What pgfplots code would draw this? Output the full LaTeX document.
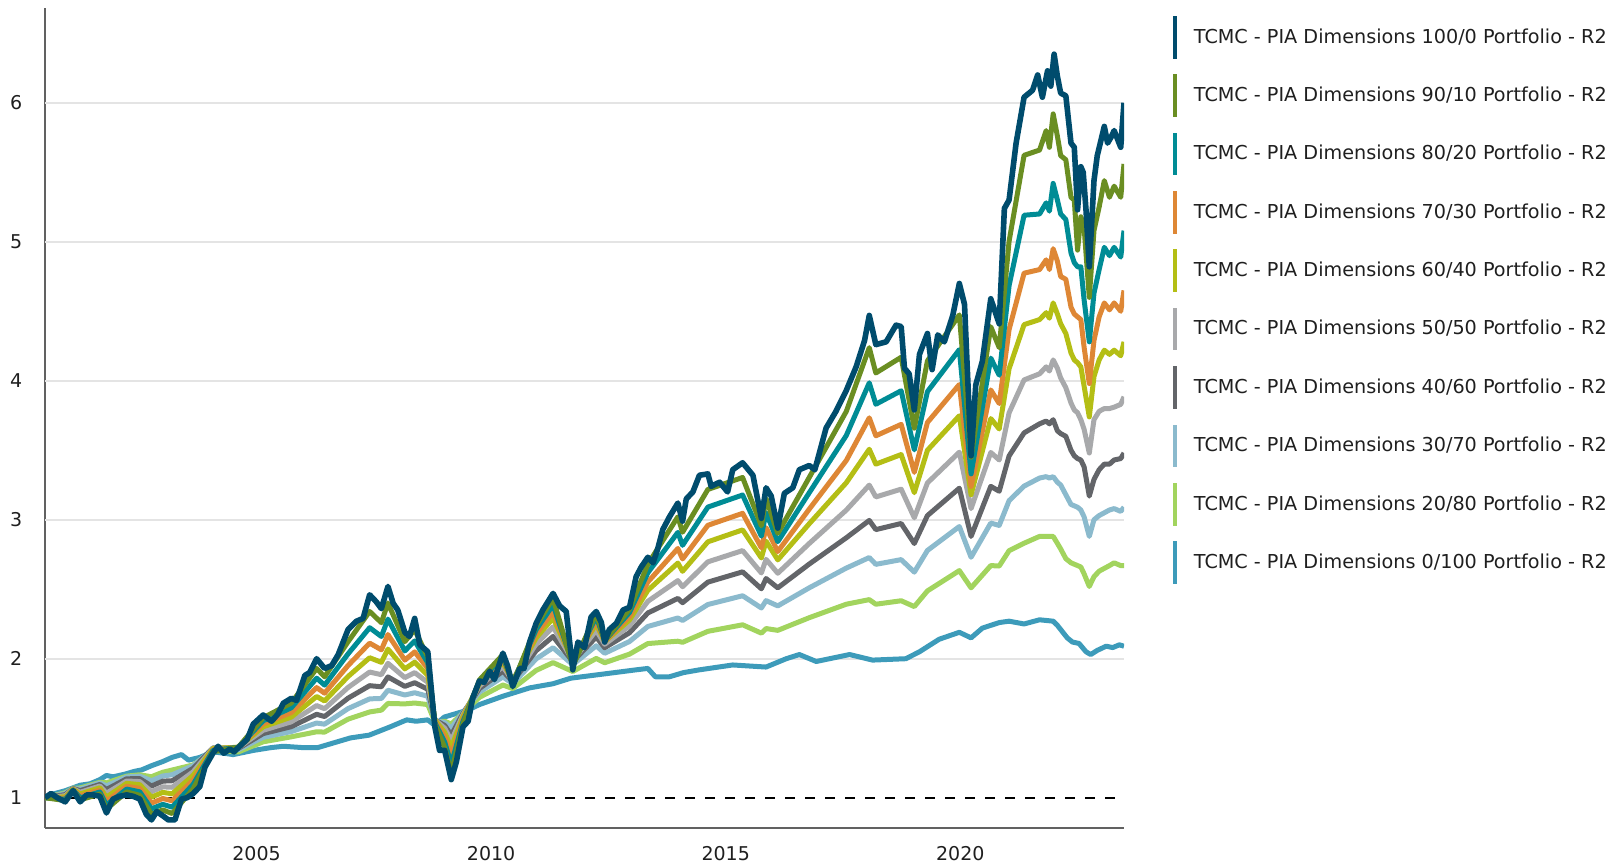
\documentclass[border=0pt]{standalone}
\usepackage{fontspec}
\setmainfont{DejaVu Sans}
\usepackage{pgfplots}
\usepackage{pgfplotstable}
\pgfplotsset{compat=1.18}

\definecolor{c100}{HTML}{004C6D}
\definecolor{c90}{HTML}{6A8E22}
\definecolor{c80}{HTML}{008C95}
\definecolor{c70}{HTML}{DE8735}
\definecolor{c60}{HTML}{B4BE15}
\definecolor{c50}{HTML}{A8A9AB}
\definecolor{c40}{HTML}{636569}
\definecolor{c30}{HTML}{8BBACD}
\definecolor{c20}{HTML}{A2D45E}
\definecolor{c0}{HTML}{3D9BBA}
\definecolor{gridc}{HTML}{E4E4E4}

% 100/0 portfolio
\pgfplotstableread{
x y
2000.49 1.00
2000.62 1.03
2000.75 1.00
2000.92 0.97
2001.09 1.05
2001.24 0.97
2001.38 1.02
2001.52 1.02
2001.66 1.01
2001.80 0.89
2001.94 0.99
2002.08 1.01
2002.23 1.02
2002.37 1.01
2002.51 0.99
2002.65 0.88
2002.76 0.84
2002.87 0.90
2003.00 0.87
2003.12 0.84
2003.26 0.84
2003.40 0.99
2003.52 1.00
2003.65 1.03
2003.79 1.08
2003.90 1.22
2004.07 1.32
2004.18 1.37
2004.30 1.32
2004.43 1.35
2004.52 1.33
2004.61 1.36
2004.80 1.42
2004.93 1.53
2005.14 1.595
2005.32 1.55
2005.45 1.60
2005.57 1.68
2005.74 1.715
2005.85 1.70
2006.03 1.88
2006.13 1.90
2006.28 2.00
2006.45 1.93
2006.60 1.95
2006.74 2.03
2006.95 2.21
2007.13 2.27
2007.27 2.29
2007.41 2.46
2007.55 2.41
2007.66 2.36
2007.80 2.52
2007.91 2.40
2008.01 2.35
2008.16 2.19
2008.26 2.16
2008.37 2.29
2008.48 2.10
2008.65 2.05
2008.80 1.51
2008.90 1.34
2009.01 1.34
2009.15 1.13
2009.26 1.26
2009.40 1.51
2009.51 1.55
2009.61 1.72
2009.75 1.84
2009.85 1.83
2009.97 1.91
2010.07 1.85
2010.25 2.04
2010.35 1.95
2010.46 1.80
2010.61 1.93
2010.70 1.93
2010.82 2.12
2010.96 2.255
2011.10 2.35
2011.32 2.47
2011.46 2.38
2011.60 2.34
2011.74 1.92
2011.85 2.12
2011.99 2.08
2012.13 2.30
2012.24 2.34
2012.35 2.26
2012.42 2.12
2012.52 2.21
2012.67 2.255
2012.81 2.35
2012.95 2.37
2013.09 2.59
2013.20 2.66
2013.34 2.73
2013.45 2.69
2013.55 2.79
2013.66 2.93
2013.80 3.02
2013.98 3.12
2014.08 2.99
2014.16 3.15
2014.30 3.20
2014.44 3.32
2014.62 3.33
2014.69 3.24
2014.87 3.27
2015.04 3.20
2015.15 3.36
2015.36 3.41
2015.58 3.32
2015.76 3.01
2015.86 3.23
2015.97 3.17
2016.11 2.94
2016.25 3.19
2016.43 3.23
2016.57 3.36
2016.78 3.39
2016.90 3.36
2017.14 3.66
2017.35 3.78
2017.57 3.93
2017.78 4.10
2017.96 4.29
2018.06 4.47
2018.20 4.26
2018.42 4.28
2018.63 4.40
2018.74 4.39
2018.81 4.09
2018.91 4.05
2019.02 3.79
2019.13 4.19
2019.30 4.34
2019.40 4.08
2019.52 4.33
2019.66 4.28
2019.84 4.47
2019.98 4.70
2020.09 4.55
2020.23 3.46
2020.33 3.97
2020.47 4.14
2020.65 4.59
2020.83 4.41
2020.94 5.24
2021.04 5.30
2021.19 5.71
2021.36 6.04
2021.54 6.09
2021.65 6.20
2021.75 6.04
2021.86 6.23
2021.93 6.12
2022.00 6.35
2022.07 6.19
2022.14 6.07
2022.25 6.05
2022.36 5.71
2022.43 5.68
2022.50 5.23
2022.57 5.54
2022.62 5.50
2022.68 5.23
2022.75 4.82
2022.85 5.44
2022.92 5.62
2023.07 5.83
2023.14 5.71
2023.21 5.75
2023.28 5.80
2023.42 5.68
2023.49 6.00
}\eqty

% 0/100 portfolio
\pgfplotstableread{
x y
2000.49 1.00
2000.70 1.03
2000.92 1.05
2001.24 1.09
2001.45 1.10
2001.66 1.13
2001.80 1.16
2001.94 1.15
2002.20 1.17
2002.40 1.19
2002.55 1.20
2002.76 1.23
2003.00 1.26
2003.20 1.29
2003.40 1.31
2003.55 1.27
2003.79 1.29
2004.07 1.33
2004.30 1.32
2004.50 1.31
2004.93 1.34
2005.30 1.36
2005.57 1.37
2006.00 1.36
2006.30 1.36
2006.70 1.40
2007.00 1.43
2007.40 1.45
2007.85 1.51
2008.20 1.56
2008.40 1.55
2008.65 1.56
2008.80 1.52
2009.00 1.58
2009.20 1.60
2009.50 1.63
2009.75 1.67
2010.25 1.73
2010.82 1.79
2011.32 1.82
2011.70 1.86
2012.40 1.89
2013.09 1.92
2013.34 1.93
2013.50 1.87
2013.80 1.87
2014.10 1.90
2014.44 1.92
2015.15 1.955
2015.86 1.94
2016.29 2.00
2016.57 2.03
2016.93 1.98
2017.64 2.03
2018.13 1.99
2018.84 2.00
2019.13 2.05
2019.55 2.14
2019.98 2.19
2020.23 2.15
2020.47 2.22
2020.83 2.26
2021.04 2.27
2021.36 2.25
2021.69 2.28
2021.98 2.27
2022.07 2.24
2022.28 2.15
2022.39 2.12
2022.53 2.11
2022.68 2.05
2022.78 2.03
2022.92 2.06
2023.11 2.09
2023.25 2.08
2023.39 2.10
2023.49 2.09
}\bond

% blended portfolios: 90/10 80/20 70/30 60/40 50/50 40/60 30/70 20/80
\pgfplotstableread{
x a b c d e f g h
2000.49 1.000 1.000 1.000 1.000 1.000 1.000 1.000 1.000
2000.92 0.979 0.988 0.997 1.006 1.014 1.022 1.030 1.036
2001.09 1.053 1.056 1.059 1.062 1.064 1.066 1.067 1.068
2001.24 0.985 0.999 1.013 1.027 1.039 1.051 1.062 1.070
2001.66 1.026 1.041 1.055 1.071 1.084 1.095 1.106 1.111
2001.80 0.918 0.947 0.975 1.004 1.032 1.059 1.085 1.107
2002.23 1.042 1.062 1.082 1.103 1.120 1.136 1.149 1.155
2002.51 1.017 1.042 1.067 1.094 1.116 1.137 1.155 1.165
2002.76 0.880 0.920 0.961 1.004 1.044 1.084 1.122 1.151
2003.00 0.912 0.952 0.994 1.038 1.078 1.119 1.156 1.183
2003.20 0.886 0.932 0.978 1.028 1.075 1.122 1.165 1.199
2003.65 1.065 1.097 1.127 1.161 1.187 1.212 1.230 1.236
2004.07 1.331 1.340 1.346 1.354 1.357 1.358 1.353 1.340
2004.61 1.363 1.363 1.363 1.363 1.359 1.354 1.345 1.329
2005.14 1.575 1.553 1.531 1.510 1.485 1.461 1.434 1.402
2005.74 1.681 1.647 1.613 1.580 1.546 1.511 1.476 1.438
2006.28 1.930 1.860 1.792 1.728 1.663 1.600 1.537 1.474
2006.45 1.870 1.810 1.752 1.696 1.640 1.584 1.529 1.472
2006.95 2.122 2.035 1.951 1.872 1.793 1.716 1.641 1.565
2007.41 2.340 2.223 2.112 2.007 1.904 1.806 1.711 1.617
2007.66 2.259 2.160 2.064 1.974 1.885 1.798 1.714 1.630
2007.80 2.401 2.285 2.174 2.069 1.967 1.869 1.773 1.678
2008.16 2.123 2.056 1.990 1.927 1.864 1.801 1.739 1.675
2008.37 2.208 2.128 2.049 1.975 1.900 1.827 1.755 1.681
2008.65 2.010 1.970 1.930 1.880 1.830 1.780 1.730 1.670
2008.80 1.530 1.540 1.550 1.560 1.560 1.560 1.555 1.545
2009.01 1.360 1.400 1.440 1.470 1.500 1.520 1.540 1.550
2009.15 1.180 1.240 1.300 1.360 1.410 1.450 1.500 1.530
2009.40 1.531 1.549 1.566 1.584 1.597 1.607 1.614 1.610
2009.75 1.847 1.839 1.829 1.820 1.804 1.785 1.760 1.722
2010.25 2.029 2.011 1.990 1.972 1.943 1.910 1.869 1.811
2010.46 1.817 1.827 1.834 1.843 1.842 1.836 1.820 1.785
2010.96 2.237 2.210 2.178 2.150 2.107 2.058 1.999 1.916
2011.32 2.435 2.388 2.338 2.292 2.229 2.160 2.079 1.972
2011.74 1.945 1.961 1.973 1.988 1.986 1.979 1.957 1.908
2012.24 2.327 2.302 2.273 2.248 2.205 2.156 2.093 2.002
2012.42 2.130 2.130 2.125 2.123 2.104 2.079 2.039 1.971
2012.95 2.357 2.333 2.304 2.279 2.236 2.187 2.124 2.033
2013.34 2.680 2.618 2.552 2.492 2.413 2.329 2.232 2.109
2013.98 3.021 2.909 2.793 2.688 2.562 2.434 2.293 2.126
2014.08 2.910 2.816 2.718 2.629 2.518 2.403 2.275 2.118
2014.62 3.218 3.091 2.960 2.841 2.697 2.551 2.390 2.197
2015.36 3.304 3.178 3.046 2.927 2.778 2.625 2.453 2.244
2015.76 2.957 2.882 2.798 2.725 2.617 2.503 2.365 2.184
2015.86 3.152 3.051 2.943 2.846 2.715 2.577 2.418 2.217
2016.11 2.902 2.842 2.771 2.711 2.615 2.510 2.380 2.204
2016.78 3.304 3.194 3.076 2.971 2.829 2.681 2.510 2.295
2017.57 3.779 3.606 3.426 3.266 3.069 2.870 2.652 2.392
2018.06 4.238 3.985 3.733 3.507 3.249 2.995 2.728 2.425
2018.20 4.056 3.831 3.604 3.400 3.164 2.929 2.679 2.392
2018.74 4.169 3.928 3.686 3.469 3.220 2.973 2.713 2.417
2019.02 3.659 3.503 3.341 3.195 3.014 2.829 2.623 2.375
2019.30 4.143 3.922 3.700 3.500 3.265 3.030 2.779 2.488
2019.98 4.474 4.224 3.973 3.748 3.486 3.227 2.951 2.634
2020.23 3.450 3.330 3.240 3.180 3.080 2.880 2.730 2.510
2020.65 4.389 4.163 3.934 3.728 3.484 3.240 2.976 2.670
2020.83 4.238 4.040 3.836 3.653 3.430 3.205 2.959 2.667
2021.04 5.003 4.684 4.368 4.086 3.769 3.459 3.137 2.777
2021.36 5.622 5.191 4.774 4.404 4.006 3.625 3.242 2.831
2021.69 5.66 5.20 4.80 4.44 4.05 3.69 3.30 2.88
2021.83 5.80 5.28 4.87 4.49 4.10 3.71 3.31 2.88
2021.90 5.68 5.22 4.80 4.45 4.07 3.69 3.30 2.88
2021.98 5.92 5.42 4.95 4.56 4.15 3.72 3.31 2.88
2022.07 5.76 5.30 4.86 4.48 4.09 3.64 3.27 2.83
2022.14 5.62 5.20 4.75 4.41 4.02 3.62 3.25 2.79
2022.25 5.59 5.16 4.73 4.34 3.95 3.60 3.18 2.72
2022.36 5.32 4.92 4.53 4.20 3.84 3.50 3.11 2.69
2022.43 5.30 4.85 4.48 4.15 3.79 3.46 3.10 2.68
2022.50 4.94 4.82 4.46 4.13 3.77 3.44 3.09 2.67
2022.57 5.18 4.82 4.44 4.10 3.72 3.43 3.07 2.66
2022.64 5.10 4.58 4.24 3.96 3.65 3.38 3.02 2.61
2022.75 4.60 4.28 3.98 3.74 3.48 3.17 2.88 2.52
2022.85 5.08 4.63 4.29 4.03 3.72 3.29 3.00 2.59
2022.96 5.25 4.80 4.46 4.15 3.78 3.36 3.03 2.63
2023.07 5.44 4.96 4.56 4.22 3.80 3.40 3.05 2.65
2023.18 5.32 4.90 4.51 4.19 3.80 3.40 3.07 2.67
2023.28 5.40 4.96 4.56 4.22 3.81 3.43 3.08 2.69
2023.42 5.32 4.89 4.50 4.18 3.83 3.44 3.06 2.67
2023.49 5.56 5.08 4.65 4.28 3.885 3.48 3.09 2.67
}\blend

\begin{document}
\begin{tikzpicture}
\path[use as bounding box] (0,0) rectangle (810pt,431.5pt);
\begin{axis}[
    at={(22.5pt,17.65pt)},
    anchor=south west,
    width=539.5pt,
    height=409.7pt,
    scale only axis,
    xmin=2000.49,
    xmax=2023.49,
    ymin=0.784,
    ymax=6.68,
    axis x line*=bottom,
    axis y line*=left,
    axis line style={draw=black!62, line width=0.85pt},
    xtick={2005,2010,2015,2020},
    xticklabels={2005,2010,2015,2020},
    ytick={1,2,3,4,5,6},
    yticklabels={1,2,3,4,5,6},
    major tick length=0pt,
    tick style={draw=none},
    tick label style={font=\fontsize{9.5}{11}\selectfont, text=black!88},
    /pgf/number format/assume math mode=true,
    yticklabel style={xshift=-7.9pt},
    xticklabel style={yshift=-5.9pt},
    reverse legend,
    legend cell align=left,
    legend image code/.code={
        \fill[#1, draw=none] (0pt,-10.67pt) rectangle (2pt,10.67pt);
        \path[draw=none] (0pt,0pt) -- (10.6pt,0pt);
    },
    legend style={
        at={(1.0451,0.9906)},
        anchor=north west,
        draw=none,
        fill=none,
        inner sep=0pt,
        outer sep=0pt,
        row sep=7.84pt,
        font=\fontsize{9.6}{11.5}\selectfont,
        text=black!88,
        nodes={inner sep=0pt},
    },
    every axis plot/.append style={line join=round},
    ]
% light grid lines
\addplot[gridc, line width=1pt, forget plot] coordinates {(2000.49,2) (2023.49,2)};
\addplot[gridc, line width=1pt, forget plot] coordinates {(2000.49,3) (2023.49,3)};
\addplot[gridc, line width=1pt, forget plot] coordinates {(2000.49,4) (2023.49,4)};
\addplot[gridc, line width=1pt, forget plot] coordinates {(2000.49,5) (2023.49,5)};
\addplot[gridc, line width=1pt, forget plot] coordinates {(2000.49,6) (2023.49,6)};
% starting value
\addplot[black, line width=1pt, dash pattern=on 5pt off 5pt, forget plot]
    coordinates {(2000.49,1) (2023.49,1)};

\addplot[c0, line width=2.5pt] table[x=x, y=y] {\bond};
\addlegendentry{TCMC - PIA Dimensions 0/100 Portfolio - R2}
\addplot[c20, line width=2.5pt] table[x=x, y=h] {\blend};
\addlegendentry{TCMC - PIA Dimensions 20/80 Portfolio - R2}
\addplot[c30, line width=2.5pt] table[x=x, y=g] {\blend};
\addlegendentry{TCMC - PIA Dimensions 30/70 Portfolio - R2}
\addplot[c40, line width=2.5pt] table[x=x, y=f] {\blend};
\addlegendentry{TCMC - PIA Dimensions 40/60 Portfolio - R2}
\addplot[c50, line width=2.5pt] table[x=x, y=e] {\blend};
\addlegendentry{TCMC - PIA Dimensions 50/50 Portfolio - R2}
\addplot[c60, line width=2.5pt] table[x=x, y=d] {\blend};
\addlegendentry{TCMC - PIA Dimensions 60/40 Portfolio - R2}
\addplot[c70, line width=2.5pt] table[x=x, y=c] {\blend};
\addlegendentry{TCMC - PIA Dimensions 70/30 Portfolio - R2}
\addplot[c80, line width=2.5pt] table[x=x, y=b] {\blend};
\addlegendentry{TCMC - PIA Dimensions 80/20 Portfolio - R2}
\addplot[c90, line width=2.5pt] table[x=x, y=a] {\blend};
\addlegendentry{TCMC - PIA Dimensions 90/10 Portfolio - R2}
\addplot[c100, line width=2.8pt] table[x=x, y=y] {\eqty};
\addlegendentry{TCMC - PIA Dimensions 100/0 Portfolio - R2}
\end{axis}
\end{tikzpicture}
\end{document}
